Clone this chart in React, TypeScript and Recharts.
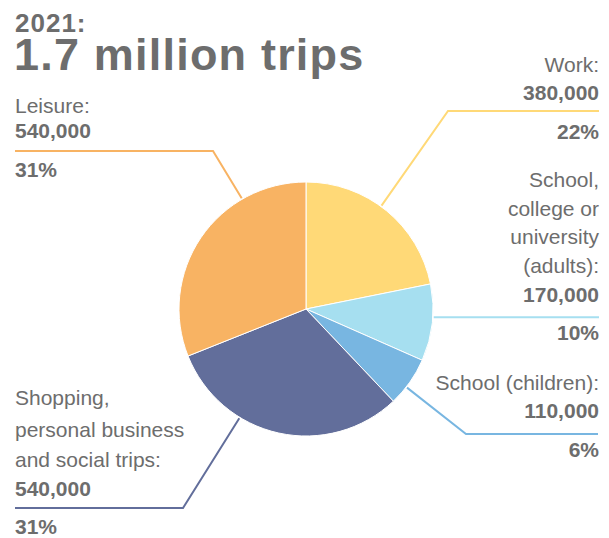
import { Pie, PieChart, Cell } from 'recharts';

// trips by purpose, 2021
const CATEGORIES = ['Work', 'School, college or university (adults)', 'School (children)', 'Shopping, personal business and social trips', 'Leisure'];
const LABEL_LINES = [
  ['Work:'],
  ['School,', 'college or', 'university', '(adults):'],
  ['School (children):'],
  ['Shopping,', 'personal business', 'and social trips:'],
  ['Leisure:'],
];
const TRIPS = [380000, 170000, 110000, 540000, 540000];
const SHARES = ['22%', '10%', '6%', '31%', '31%'];
const COLORS = ['#FFD977', '#A6DFF0', '#78B6E1', '#626E9B', '#F8B363'];

const INK = '#6d6d6d';
const FONT = '"Liberation Sans", Arial, Helvetica, sans-serif';
const RADIAN = Math.PI / 180;

// where each leader line leaves its slice (fraction of the sweep), where it bends,
// where it ends, and the baselines of the text lines (name lines, value, share)
const LAYOUT = [
  { anchor: 0.46, bend: [448, 111], end: 599, side: 'right', names: [72], value: 100, share: 139 },
  { anchor: 0.43, bend: null, end: 599, side: 'right', names: [187, 216, 244, 273], value: 302, share: 340 },
  { anchor: 0.62, bend: [466, 434], end: 598, side: 'right', names: [390], value: 418, share: 457 },
  { anchor: 0.67, bend: [183, 508], end: 15, side: 'left', names: [405, 437, 467], value: 496, share: 534 },
  { anchor: 0.73, bend: [213, 151], end: 15, side: 'left', names: [113], value: 138, share: 177 },
];

const data = CATEGORIES.map((name, i) => ({ name, value: TRIPS[i] }));

function SliceLabel(props: any) {
  const { cx, cy, outerRadius, startAngle, endAngle, midAngle, index } = props;
  const lay = LAYOUT[index];
  const a =
    startAngle != null && endAngle != null
      ? startAngle + lay.anchor * (endAngle - startAngle)
      : midAngle;
  const r = outerRadius + 1;
  const sx = cx + r * Math.cos(-a * RADIAN);
  const sy = cy + r * Math.sin(-a * RADIAN);
  const bx = lay.bend ? lay.bend[0] : sx;
  const by = lay.bend ? lay.bend[1] : sy;
  const right = lay.side === 'right';
  const tx = right ? 599 : 15;
  const anchor = right ? 'end' : 'start';
  return (
    <g>
      <path
        d={`M${sx},${sy}L${bx},${by}L${lay.end},${by}`}
        fill="none"
        stroke={COLORS[index]}
        strokeWidth={2}
      />
      {LABEL_LINES[index].map((t, j) => (
        <text key={j} x={tx} y={lay.names[j]} textAnchor={anchor} fill={INK} fontSize={21} fontFamily={FONT}>
          {t}
        </text>
      ))}
      <text x={tx} y={lay.value} textAnchor={anchor} fill={INK} fontSize={21} fontWeight="bold" fontFamily={FONT}>
        {TRIPS[index].toLocaleString('en-US')}
      </text>
      <text x={tx} y={lay.share} textAnchor={anchor} fill={INK} fontSize={21} fontWeight="bold" fontFamily={FONT}>
        {SHARES[index]}
      </text>
    </g>
  );
}

export default function App() {
  return (
    <div style={{ position: 'absolute', left: 0, top: 0, width: 609, height: 538, background: '#fff' }}>
      <PieChart width={609} height={538} margin={{ top: 0, right: 0, bottom: 0, left: 0 }}>
        {/* two-line headline as one text block */}
        <text fill={INK} fontWeight="bold" fontFamily={FONT} letterSpacing={1}>
          <tspan x={15} y={32} fontSize={26}>
            2021:
          </tspan>
          <tspan x={14} y={70} fontSize={45} letterSpacing={1.2}>
            1.7 million trips
          </tspan>
        </text>
        <Pie
          data={data}
          dataKey="value"
          nameKey="name"
          cx={306}
          cy={309}
          outerRadius={127}
          startAngle={90}
          endAngle={-270}
          stroke="#ffffff"
          strokeWidth={1}
          labelLine={false}
          label={SliceLabel}
          isAnimationActive={false}
        >
          {data.map((d, i) => (
            <Cell key={d.name} fill={COLORS[i]} />
          ))}
        </Pie>
      </PieChart>
    </div>
  );
}
